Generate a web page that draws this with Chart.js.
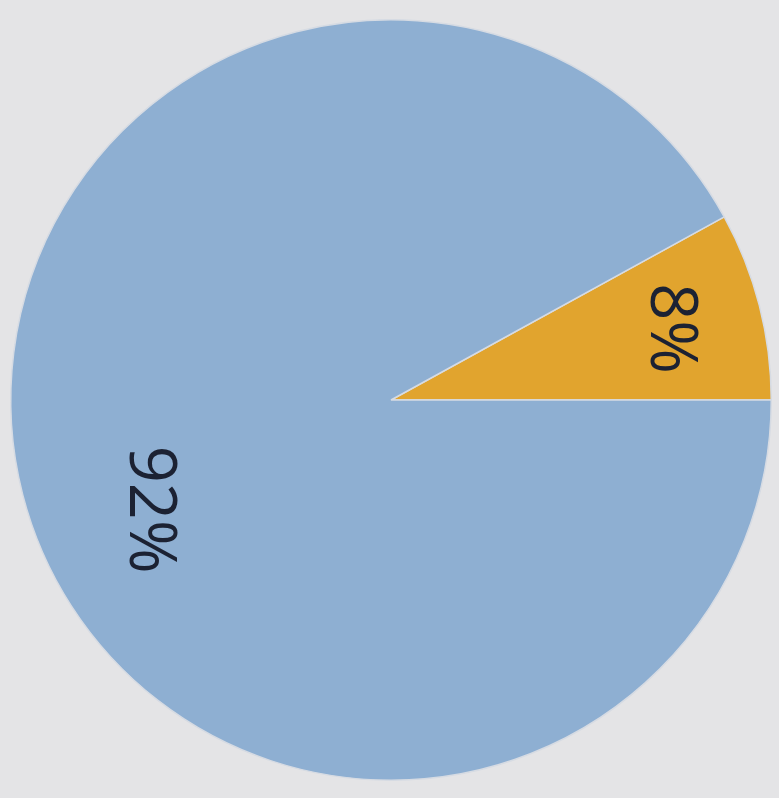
<!DOCTYPE html>
<html>
<head>
<meta charset="utf-8">
<script src="https://cdn.jsdelivr.net/npm/chart.js@4"></script>
<style>
  html, body { margin: 0; padding: 0; background: #e4e4e6; }
  #wrap { width: 779px; height: 798px; position: relative; }
</style>
</head>
<body>
<div id="wrap"><canvas id="pie"></canvas></div>
<script>
var labels = ['B', 'A'];
var shares = [8, 92];
var valueLabels = ['8%', '92%'];
var colors = ['#e1a42e', '#8eafd2'];

// where each label sits inside its slice: fraction of the sweep and of the radius
var labelPos = [{ a: 0.5, r: 0.755 }, { a: 0.47, r: 0.70 }];

var sliceText = {
  id: 'sliceText',
  afterDatasetsDraw: function(chart) {
    var ctx = chart.ctx;
    var meta = chart.getDatasetMeta(0);
    ctx.save();
    ctx.font = '500 65px "Open Sans", sans-serif';
    ctx.fillStyle = '#1c2233';
    ctx.textAlign = 'center';
    ctx.textBaseline = 'middle';
    meta.data.forEach(function(arc, i) {
      var p = arc.getProps(['x', 'y', 'startAngle', 'endAngle', 'outerRadius'], true);
      var ang = p.startAngle + (p.endAngle - p.startAngle) * labelPos[i].a;
      var rad = p.outerRadius * labelPos[i].r;
      ctx.save();
      ctx.translate(p.x + Math.cos(ang) * rad, p.y + Math.sin(ang) * rad);
      ctx.rotate(Math.PI / 2);
      ctx.fillText(valueLabels[i], 0, 0);
      ctx.restore();
    });
    ctx.restore();
  }
};

new Chart(document.getElementById('pie'), {
  type: 'pie',
  data: {
    labels: labels,
    datasets: [{
      data: shares,
      backgroundColor: colors,
      borderColor: '#d6dbe3',
      borderWidth: 1.5
    }]
  },
  options: {
    responsive: true,
    maintainAspectRatio: false,
    animation: false,
    rotation: 90 - shares[0] * 3.6,
    layout: { padding: { left: 10, right: 7, top: 19, bottom: 17 } },
    plugins: { legend: { display: false }, tooltip: { enabled: false } }
  },
  plugins: [sliceText]
});
</script>
</body>
</html>
